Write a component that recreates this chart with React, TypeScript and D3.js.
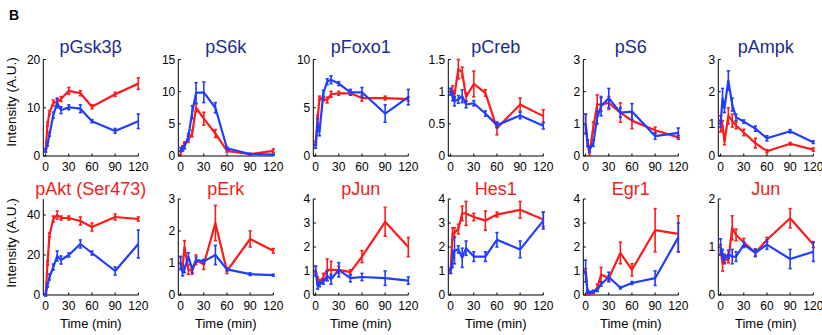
import React from "react";
import * as d3 from "d3";

const times = [0, 2.5, 5, 10, 15, 20, 30, 45, 60, 90, 120];
const xTicks = [0, 30, 60, 90, 120];

// top row
const gskRed = [1.2, 6.6, 9, 11, 11.3, 11.8, 13.5, 13, 10.2, 12.8, 15];
const gskRedErr = [0.3, 0.4, 0.4, 0.6, 0.5, 0.5, 0.7, 0.5, 0.4, 0.4, 1.2];
const gskBlue = [1.1, 2.5, 4.5, 8.5, 11, 9.5, 10.1, 9.8, 7.2, 5.2, 7.2];
const gskBlueErr = [0.3, 0.4, 0.4, 0.6, 1, 0.7, 0.5, 0.8, 0.3, 0.5, 1.5];

const s6kRed = [0.5, 1.2, 1.7, 2.6, 3.5, 7.5, 5.8, 3.5, 0.8, 0.3, 0.8];
const s6kRedErr = [0.3, 0.4, 0.5, 0.5, 0.5, 0.6, 1, 0.6, 0.2, 0.1, 0.3];
const s6kBlue = [1, 1.1, 1.5, 3, 6.8, 9.8, 9.9, 7.5, 1.2, 0.3, 0.2];
const s6kBlueErr = [0.3, 0.3, 0.4, 0.5, 1, 1.6, 1.6, 0.8, 0.2, 0.1, 0.1];

const foxoRed = [1.3, 3.8, 6, 5.9, 5.8, 6.4, 6.5, 6.5, 6, 6, 5.9];
const foxoRedErr = [0.2, 0.4, 0.2, 0.2, 0.3, 0.3, 0.2, 0.2, 0.3, 0.2, 0.2];
const foxoBlue = [1, 3.3, 2.5, 6.5, 7.7, 7.9, 7.5, 6.6, 6.6, 4.4, 6.1];
const foxoBlueErr = [0.2, 0.6, 0.4, 0.3, 0.3, 0.4, 0.2, 0.3, 0.5, 0.9, 0.8];

const crebRed = [1, 1.02, 0.95, 1.35, 1.3, 0.92, 1.12, 0.98, 0.43, 0.8, 0.62];
const crebRedErr = [0.05, 0.07, 0.06, 0.15, 0.08, 0.06, 0.2, 0.05, 0.1, 0.1, 0.1];
const crebBlue = [1, 0.92, 0.85, 0.88, 0.93, 0.8, 0.82, 0.66, 0.48, 0.63, 0.47];
const crebBlueErr = [0.05, 0.06, 0.07, 0.06, 0.1, 0.05, 0.04, 0.04, 0.04, 0.05, 0.05];

const s6Red = [1, 0.4, 0.1, 0.9, 1.6, 1.6, 1.65, 1.35, 1.1, 0.8, 0.58];
const s6RedErr = [0.3, 0.1, 0.08, 0.15, 0.3, 0.2, 0.2, 0.3, 0.25, 0.1, 0.06];
const s6Blue = [1, 0.4, 0.2, 0.4, 1.2, 1.55, 1.8, 1.35, 1.38, 0.62, 0.72];
const s6BlueErr = [0.3, 0.1, 0.08, 0.1, 0.2, 0.3, 0.3, 0.15, 0.25, 0.1, 0.15];

const ampkRed = [1, 0.95, 0.45, 1.25, 1.1, 0.95, 0.73, 0.4, 0.15, 0.38, 0.2];
const ampkRedErr = [0.25, 0.15, 0.1, 0.25, 0.2, 0.1, 0.1, 0.15, 0.05, 0.04, 0.05];
const ampkBlue = [1, 1.8, 1.5, 2.35, 1.6, 1.2, 1.07, 0.85, 0.55, 0.77, 0.43];
const ampkBlueErr = [0.1, 0.3, 0.15, 0.3, 0.2, 0.1, 0.05, 0.08, 0.08, 0.05, 0.04];

// bottom row
const aktRed = [0, 16, 30, 38, 40, 38.5, 38.5, 37, 34, 39, 38];
const aktRedErr = [0.5, 1, 1, 1.5, 2, 1, 1, 2, 2, 1.5, 1];
const aktBlue = [0, 5, 9, 14, 19.5, 17.5, 20, 25.5, 21, 12, 25.5];
const aktBlueErr = [0.5, 1, 1.5, 1.5, 2.5, 2, 1, 2, 1, 2, 7];

const erkRed = [1, 0.85, 1.5, 0.8, 0.75, 1.1, 0.95, 2.25, 0.75, 1.75, 1.38];
const erkRedErr = [0.2, 0.1, 0.2, 0.15, 0.1, 0.15, 0.15, 0.55, 0.08, 0.25, 0.07];
const erkBlue = [1, 0.7, 0.8, 1.2, 0.8, 1.1, 1.05, 1.25, 0.8, 0.65, 0.62];
const erkBlueErr = [0.2, 0.1, 0.1, 0.12, 0.1, 0.08, 0.06, 0.3, 0.05, 0.04, 0.03];

const pjunRed = [1.05, 0.6, 0.5, 0.75, 1.05, 1.05, 1.05, 0.95, 1.6, 3.05, 2];
const pjunRedErr = [0.15, 0.15, 0.15, 0.15, 0.45, 0.35, 0.15, 0.1, 0.25, 0.6, 0.4];
const pjunBlue = [1, 0.4, 0.45, 0.55, 0.8, 0.65, 1.05, 0.7, 0.75, 0.7, 0.6];
const pjunBlueErr = [0.2, 0.15, 0.1, 0.1, 0.2, 0.2, 0.3, 0.15, 0.15, 0.3, 0.15];

const hesRed = [1, 2.55, 2.6, 2.75, 3.4, 3.4, 3.25, 3.1, 3.35, 3.55, 3.15];
const hesRedErr = [0.1, 0.25, 0.2, 0.2, 0.3, 0.5, 0.15, 0.4, 0.1, 0.35, 0.3];
const hesBlue = [1, 1.5, 1.85, 1.9, 1.55, 1.95, 1.6, 1.6, 2.3, 1.9, 3.1];
const hesBlueErr = [0.1, 0.35, 0.55, 0.15, 0.4, 0.3, 0.2, 0.2, 0.3, 0.35, 0.35];

const egrRed = [1, 0.05, 0.05, 0.1, 0.3, 0.85, 0.7, 1.75, 1.05, 2.7, 2.55];
const egrRedErr = [0.1, 0.05, 0.05, 0.05, 0.15, 0.3, 0.1, 0.45, 0.25, 0.9, 0.75];
const egrBlue = [1, 0.15, 0.1, 0.15, 0.2, 0.45, 0.75, 0.3, 0.5, 0.7, 2.4];
const egrBlueErr = [0.45, 0.05, 0.05, 0.05, 0.05, 0.08, 0.2, 0.05, 0.06, 0.3, 0.6];

const junRed = [0.95, 0.65, 0.75, 0.72, 1.4, 1.25, 1.1, 0.88, 1.15, 1.6, 1.05];
const junRedErr = [0.1, 0.15, 0.1, 0.05, 0.25, 0.12, 0.08, 0.07, 0.05, 0.2, 0.06];
const junBlue = [1, 0.85, 0.75, 0.85, 0.8, 0.8, 1.05, 0.88, 1.05, 0.75, 0.9];
const junBlueErr = [0.17, 0.1, 0.08, 0.08, 0.15, 0.1, 0.06, 0.08, 0.1, 0.2, 0.2];

const titles = ["pGsk3β", "pS6k", "pFoxo1", "pCreb", "pS6", "pAmpk", "pAkt (Ser473)", "pErk", "pJun", "Hes1", "Egr1", "Jun"];
const yMaxes = [20, 15, 10, 1.5, 3, 3, 48, 3, 4, 4, 4, 2];
const yTickSets = [
  [0, 10, 20], [0, 5, 10, 15], [0, 5, 10], [0, 0.5, 1, 1.5], [0, 1, 2, 3], [0, 1, 2, 3],
  [0, 20, 40], [0, 1, 2, 3], [0, 1, 2, 3, 4], [0, 1, 2, 3, 4], [0, 1, 2, 3, 4], [0, 1, 2],
];
const redSeries = [gskRed, s6kRed, foxoRed, crebRed, s6Red, ampkRed, aktRed, erkRed, pjunRed, hesRed, egrRed, junRed];
const redErrs = [gskRedErr, s6kRedErr, foxoRedErr, crebRedErr, s6RedErr, ampkRedErr, aktRedErr, erkRedErr, pjunRedErr, hesRedErr, egrRedErr, junRedErr];
const blueSeries = [gskBlue, s6kBlue, foxoBlue, crebBlue, s6Blue, ampkBlue, aktBlue, erkBlue, pjunBlue, hesBlue, egrBlue, junBlue];
const blueErrs = [gskBlueErr, s6kBlueErr, foxoBlueErr, crebBlueErr, s6BlueErr, ampkBlueErr, aktBlueErr, erkBlueErr, pjunBlueErr, hesBlueErr, egrBlueErr, junBlueErr];

const RED = "#ff1a1a";
const BLUE = "#1f3dff";
const TITLE_BLUE = "#1b2b8e";
const TITLE_RED = "#f01e1e";
const FONT = "Liberation Sans, Arial, sans-serif";

function Series({ xs, ys, vals, errs, color }: any) {
  const line = d3.line<number>().x((_, i) => xs(times[i])).y((v) => ys(v));
  return (
    <g>
      <path d={line(vals) || ""} fill="none" stroke={color} strokeWidth={2.2} strokeLinejoin="round" />
      {vals.map((v: number, i: number) => {
        const x = xs(times[i]);
        const y1 = ys(v - errs[i]);
        const y2 = ys(v + errs[i]);
        return (
          <g key={i} stroke={color} strokeWidth={1.6}>
            <line x1={x} x2={x} y1={y1} y2={y2} />
            <line x1={x - 1.6} x2={x + 1.6} y1={y1} y2={y1} />
            <line x1={x - 1.6} x2={x + 1.6} y1={y2} y2={y2} />
          </g>
        );
      })}
    </g>
  );
}

function Panel({ idx }: { idx: number }) {
  const row = idx < 6 ? 0 : 1;
  const col = idx % 6;
  const left = 43.3 + col * 135;
  const width = 95;
  const y0 = row === 0 ? 156 : 295;
  const yTop = row === 0 ? 59.5 : 199;
  const xs = d3.scaleLinear().domain([-3, 120]).range([left, left + width]);
  const ys = d3.scaleLinear().domain([0, yMaxes[idx]]).range([y0, yTop]);
  const cx = left + width / 2;
  return (
    <g>
      <text x={cx} y={row === 0 ? 53 : 195} textAnchor="middle" fontSize={18} fontFamily={FONT}
        fill={row === 0 ? TITLE_BLUE : TITLE_RED}>{titles[idx]}</text>
      <line x1={left} x2={left} y1={yTop} y2={y0} stroke="#000" strokeWidth={1} />
      <line x1={left} x2={xs(120)} y1={y0} y2={y0} stroke="#000" strokeWidth={1} />
      {yTickSets[idx].map((t) => (
        <g key={"y" + t}>
          <line x1={left} x2={left + 2.5} y1={ys(t)} y2={ys(t)} stroke="#000" />
          <text x={left - 3} y={ys(t)} dy="0.36em" textAnchor="end" fontSize={12} fontFamily={FONT} fill="#000">{String(t)}</text>
        </g>
      ))}
      {xTicks.map((t) => (
        <g key={"x" + t}>
          <line x1={xs(t)} x2={xs(t)} y1={y0} y2={y0 - 2.5} stroke="#000" />
          <text x={xs(t)} y={y0 + 15} textAnchor="middle" fontSize={12} fontFamily={FONT} fill="#000">{String(t)}</text>
        </g>
      ))}
      <Series xs={xs} ys={ys} vals={redSeries[idx]} errs={redErrs[idx]} color={RED} />
      <Series xs={xs} ys={ys} vals={blueSeries[idx]} errs={blueErrs[idx]} color={BLUE} />
      {row === 1 && (
        <text x={cx} y={328} textAnchor="middle" fontSize={13} fontFamily={FONT} fill="#000">Time (min)</text>
      )}
    </g>
  );
}

export default function App() {
  return (
    <svg width={822} height={335} style={{ position: "absolute", left: 0, top: 0, background: "#fff" }}>
      <rect width={822} height={335} fill="#fff" />
      <text x={9} y={20} fontSize={14} fontWeight="bold" fontFamily={FONT} fill="#000">B</text>
      <text transform="translate(16,102) rotate(-90)" textAnchor="middle" fontSize={13.5} fontFamily={FONT} fill="#000">Intensity (A.U.)</text>
      <text transform="translate(16,243) rotate(-90)" textAnchor="middle" fontSize={13.5} fontFamily={FONT} fill="#000">Intensity (A.U.)</text>
      {titles.map((_, i) => <Panel key={i} idx={i} />)}
    </svg>
  );
}
